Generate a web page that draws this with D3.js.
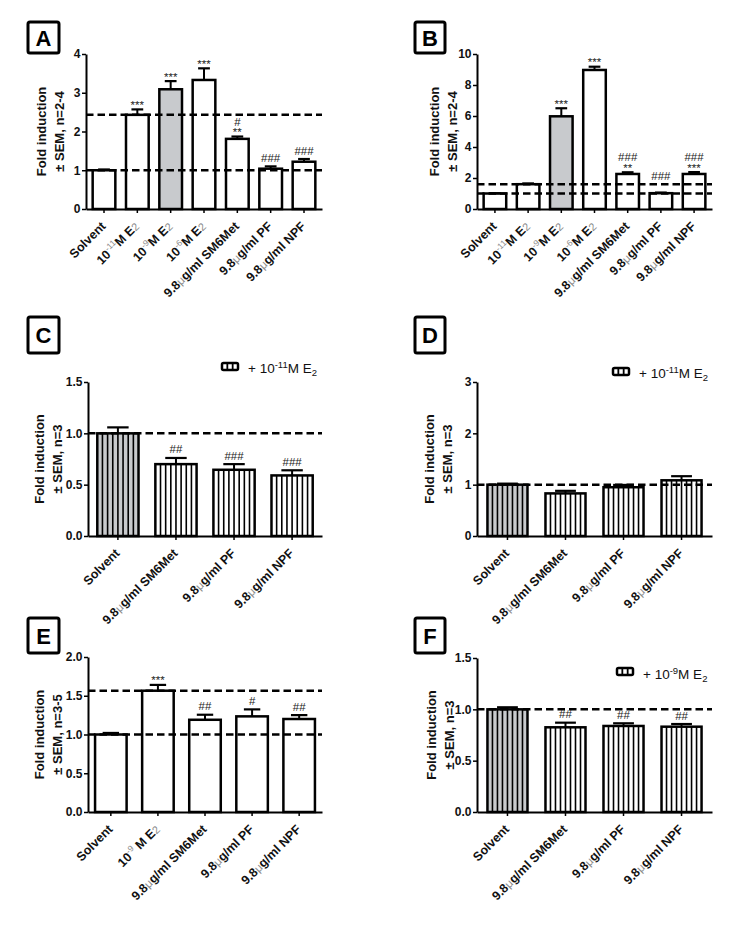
<!DOCTYPE html>
<html><head><meta charset="utf-8">
<script src="https://cdn.jsdelivr.net/npm/d3@7"></script>
<style>body{margin:0;background:#fff}svg{display:block}</style>
</head><body>
<svg id="c" width="740" height="936"></svg>
<script>
// ---------- DATA ----------
const catsAB = ["Solvent", "10^{-11}M E_{2}", "10^{-9}M E_{2}", "10^{-6}M E_{2}", "9.8μg/ml SM6Met", "9.8μg/ml PF", "9.8μg/ml NPF"];
const valuesA = [1.0, 2.43, 3.09, 3.33, 1.81, 1.04, 1.22];
const errA    = [0.02, 0.14, 0.21, 0.30, 0.06, 0.06, 0.07];
const annA    = ["", "***", "***", "***", "#|**", "###", "###"];
const refA    = [1.0, 2.43];
const ticksA  = [0, 1, 2, 3, 4];

const valuesB = [1.0, 1.6, 5.98, 8.97, 2.26, 1.02, 2.26];
const errB    = [0.02, 0.05, 0.52, 0.21, 0.11, 0.04, 0.12];
const annB    = ["", "", "***", "***", "###|**", "###", "###|***"];
const refB    = [1.0, 1.6];
const ticksB  = [0, 2, 4, 6, 8, 10];

const catsCDF = ["Solvent", "9.8μg/ml SM6Met", "9.8μg/ml PF", "9.8μg/ml NPF"];
const valuesC = [1.0, 0.70, 0.645, 0.59];
const errC    = [0.058, 0.06, 0.055, 0.05];
const annC    = ["", "##", "###", "###"];
const refC    = [1.0];
const ticksC  = [0, 0.5, 1.0, 1.5];

const valuesD = [1.0, 0.83, 0.95, 1.085];
const errD    = [0.02, 0.05, 0.045, 0.08];
const annD    = ["", "", "", ""];
const refD    = [1.0];
const ticksD  = [0, 1, 2, 3];

const catsE   = ["Solvent", "10^{-9} M E_{2}", "9.8μg/ml SM6Met", "9.8μg/ml PF", "9.8μg/ml NPF"];
const valuesE = [1.0, 1.565, 1.19, 1.234, 1.2];
const errE    = [0.02, 0.075, 0.065, 0.09, 0.05];
const annE    = ["", "***", "##", "#", "##"];
const refE    = [1.0, 1.565];
const ticksE  = [0, 0.5, 1.0, 1.5, 2.0];

const valuesF = [1.0, 0.825, 0.838, 0.831];
const errF    = [0.02, 0.045, 0.026, 0.026];
const annF    = ["", "##", "##", "##"];
const refF    = [1.0];
const ticksF  = [0, 0.5, 1.0, 1.5];

const legendC = "+ 10^{-11}M E_{2}";
const legendD = "+ 10^{-11}M E_{2}";
const legendF = "+ 10^{-9}M E_{2}";
const ylabLine1 = "Fold induction";
const ylabAB = "± SEM, n=2-4";
const ylabCDF = "± SEM, n=3";
const ylabE = "± SEM, n=3-5";

// ---------- DRAWING ----------
const FONT = "'Liberation Sans', Arial, Helvetica, sans-serif";
const GREY = "#c8cacd";
const svg = d3.select("#c").style("font-family", FONT);

function rich(sel, str, mode) {
  const parts = str.split(/(\^\{[^}]*\}|_\{[^}]*\}|μ)/g).filter(s => s !== "");
  let cur = 0;
  parts.forEach(p => {
    const t = sel.append("tspan");
    let txt = p, off = 0;
    if (p.startsWith("^{")) {
      txt = p.slice(2, -1);
      if (mode === "axis") { off = -5; t.attr("font-size", 8.5).attr("font-weight", "normal").attr("fill", "#8a8a8a"); }
      else { off = -5.5; t.attr("font-size", 9.5); }
    } else if (p.startsWith("_{")) {
      txt = p.slice(2, -1);
      if (mode === "axis") { off = 0.5; t.attr("font-size", 11).attr("font-weight", "normal").attr("fill", "#8a8a8a"); }
      else { off = 3; t.attr("font-size", 9.5); }
    } else if (p === "μ") {
      t.attr("font-weight", "normal").attr("fill", "#8a8a8a").attr("font-size", 11.5);
    }
    if (off !== cur) { t.attr("dy", off - cur); cur = off; }
    t.text(txt);
  });
}

function panel(cfg) {
  const g = svg.append("g");
  const x = d3.scaleBand().domain(cfg.cats).range([cfg.x0, cfg.x1])
    .paddingInner(cfg.pi).paddingOuter(cfg.po);
  const y = d3.scaleLinear().domain([0, cfg.ymax]).range([cfg.y1, cfg.y0]);
  const bw = x.bandwidth();
  const lift = cfg.annLift || {};

  // bars
  cfg.cats.forEach((c, i) => {
    const bx = x(c), top = y(cfg.vals[i]), base = y(0);
    g.append("rect").attr("x", bx).attr("y", top).attr("width", bw).attr("height", base - top)
      .attr("fill", i === cfg.greyIdx ? GREY : "#fff");
    if (cfg.striped) {
      const n = Math.round(bw / 5);
      const st = bw / n;
      d3.range(1, n).forEach(k => {
        g.append("line").attr("x1", bx + k * st).attr("x2", bx + k * st)
          .attr("y1", top).attr("y2", base).attr("stroke", "#000").attr("stroke-width", 1.6);
      });
    }
    g.append("rect").attr("x", bx).attr("y", top).attr("width", bw).attr("height", base - top)
      .attr("fill", "none").attr("stroke", "#000").attr("stroke-width", 2.5);
    // error bar
    const et = y(cfg.vals[i] + cfg.errs[i]);
    const cx = bx + bw / 2;
    g.append("line").attr("x1", cx).attr("x2", cx).attr("y1", top).attr("y2", et)
      .attr("stroke", "#000").attr("stroke-width", 2);
    g.append("line").attr("x1", cx - bw * 0.26).attr("x2", cx + bw * 0.26).attr("y1", et).attr("y2", et)
      .attr("stroke", "#000").attr("stroke-width", 2.2);
    // annotations
    if (cfg.anns[i]) {
      const lines = cfg.anns[i].split("|").reverse();
      let yy = null;
      lines.forEach((ln, k) => {
        const ast = ln[0] === "*";
        if (k === 0) yy = (ast ? et - 0.5 : et - 4.5) - (lift[i] || 0);
        else yy -= 10.5;
        g.append("text").attr("x", cx).attr("y", yy).attr("text-anchor", "middle")
          .attr("font-size", 11.5).attr("fill", "#222").text(ln);
      });
    }
  });

  // dashed reference lines
  cfg.refs.forEach(r => {
    g.append("line").attr("x1", cfg.x0).attr("x2", cfg.x1).attr("y1", y(r)).attr("y2", y(r))
      .attr("stroke", "#000").attr("stroke-width", 2.5).attr("stroke-dasharray", "7.5,4");
  });

  // y axis
  const ya = g.append("g").attr("transform", `translate(${cfg.x0},0)`)
    .call(d3.axisLeft(y).tickValues(cfg.ticks).tickSize(4).tickSizeOuter(0).tickPadding(1.5)
      .tickFormat(d3.format(cfg.fmt)));
  ya.select(".domain").attr("stroke-width", 2);
  ya.selectAll(".tick line").attr("stroke-width", 1.5);
  ya.selectAll(".tick text").attr("font-size", 12).attr("font-weight", "bold")
    .attr("font-family", FONT).attr("fill", "#111");

  // x axis
  const xa = g.append("g").attr("transform", `translate(0,${cfg.y1})`)
    .call(d3.axisBottom(x).tickSize(4).tickSizeOuter(0).tickFormat(""));
  xa.select(".domain").attr("stroke-width", 2);
  xa.selectAll(".tick line").attr("stroke-width", 1.5);
  cfg.cats.forEach(c => {
    const tx = x(c) + bw / 2 + 2.5, ty = cfg.y1 + 18;
    const t = g.append("text").attr("transform", `translate(${tx},${ty}) rotate(-45)`)
      .attr("text-anchor", "end").attr("font-size", 12.5).attr("font-weight", "bold").attr("fill", "#111");
    rich(t, c, "axis");
  });

  // y label
  const cy = (cfg.y0 + cfg.y1) / 2;
  [ylabLine1, cfg.ylab2].forEach((s, k) => {
    g.append("text").attr("transform", `translate(${cfg.x0 + cfg.ylabOff[k]},${cy}) rotate(-90)`)
      .attr("text-anchor", "middle").attr("font-size", 13).attr("font-weight", "bold").attr("fill", "#111")
      .text(s);
  });

  // panel letter box
  const b = cfg.box;
  g.append("rect").attr("x", b.x).attr("y", b.y).attr("width", b.w).attr("height", b.h).attr("rx", 2)
    .attr("fill", "none").attr("stroke", "#000").attr("stroke-width", 3);
  g.append("text").attr("x", b.x + b.w / 2).attr("y", b.y + b.h / 2 + 8).attr("text-anchor", "middle")
    .attr("font-size", 22).attr("font-weight", "bold").text(cfg.letter);

  // legend
  if (cfg.legend) {
    const L = cfg.legend;
    g.append("rect").attr("x", L.ix).attr("y", L.iy).attr("width", 16).attr("height", 7).attr("rx", 1.5)
      .attr("fill", "#fff").attr("stroke", "#000").attr("stroke-width", 2.5);
    [1, 2].forEach(k => g.append("line").attr("x1", L.ix + k * 16 / 3).attr("x2", L.ix + k * 16 / 3)
      .attr("y1", L.iy).attr("y2", L.iy + 7).attr("stroke", "#000").attr("stroke-width", 1.8));
    const t = g.append("text").attr("x", L.tx).attr("y", L.ty).attr("font-size", 13.5).attr("fill", "#111");
    rich(t, L.text, "legend");
  }
}

panel({letter: "A", cats: catsAB, vals: valuesA, errs: errA, anns: annA, refs: refA, ticks: ticksA, fmt: "d",
  x0: 86, x1: 322, y0: 54, y1: 209, ymax: 4, pi: 0.32, po: 0.2, greyIdx: 2, striped: false,
  ylab2: ylabAB, ylabOff: [-40, -22], box: {x: 28, y: 22, w: 31, h: 31}});
panel({letter: "B", cats: catsAB, vals: valuesB, errs: errB, anns: annB, refs: refB, ticks: ticksB, fmt: "d",
  x0: 477, x1: 712, y0: 54, y1: 209, ymax: 10, pi: 0.32, po: 0.2, greyIdx: 2, striped: false,
  ylab2: ylabAB, ylabOff: [-38, -20], box: {x: 415, y: 22, w: 30, h: 31}, annLift: {5: 8}});
panel({letter: "C", cats: catsCDF, vals: valuesC, errs: errC, anns: annC, refs: refC, ticks: ticksC, fmt: ".1f",
  x0: 88, x1: 322, y0: 382, y1: 536, ymax: 1.5, pi: 0.29, po: 0.16, greyIdx: 0, striped: true,
  ylab2: ylabCDF, ylabOff: [-44, -26], box: {x: 28, y: 317, w: 31, h: 36},
  legend: {ix: 222, iy: 363, tx: 248, ty: 373, text: legendC}});
panel({letter: "D", cats: catsCDF, vals: valuesD, errs: errD, anns: annD, refs: refD, ticks: ticksD, fmt: "d",
  x0: 477, x1: 712, y0: 382, y1: 536, ymax: 3, pi: 0.31, po: 0.18, greyIdx: 0, striped: true,
  ylab2: ylabCDF, ylabOff: [-43, -25], box: {x: 415, y: 317, w: 30, h: 36},
  legend: {ix: 613, iy: 368, tx: 639, ty: 378, text: legendD}});
panel({letter: "E", cats: catsE, vals: valuesE, errs: errE, anns: annE, refs: refE, ticks: ticksE, fmt: ".1f",
  x0: 88, x1: 322, y0: 657, y1: 812, ymax: 2, pi: 0.33, po: 0.15, greyIdx: -1, striped: false,
  ylab2: ylabE, ylabOff: [-44, -26], box: {x: 28, y: 618, w: 31, h: 35}});
panel({letter: "F", cats: catsCDF, vals: valuesF, errs: errF, anns: annF, refs: refF, ticks: ticksF, fmt: ".1f",
  x0: 477, x1: 712, y0: 658, y1: 812, ymax: 1.5, pi: 0.31, po: 0.18, greyIdx: 0, striped: true,
  ylab2: ylabCDF, ylabOff: [-41, -23], box: {x: 415, y: 618, w: 30, h: 35},
  legend: {ix: 617, iy: 668, tx: 643, ty: 679, text: legendF}});
</script>
</body></html>
